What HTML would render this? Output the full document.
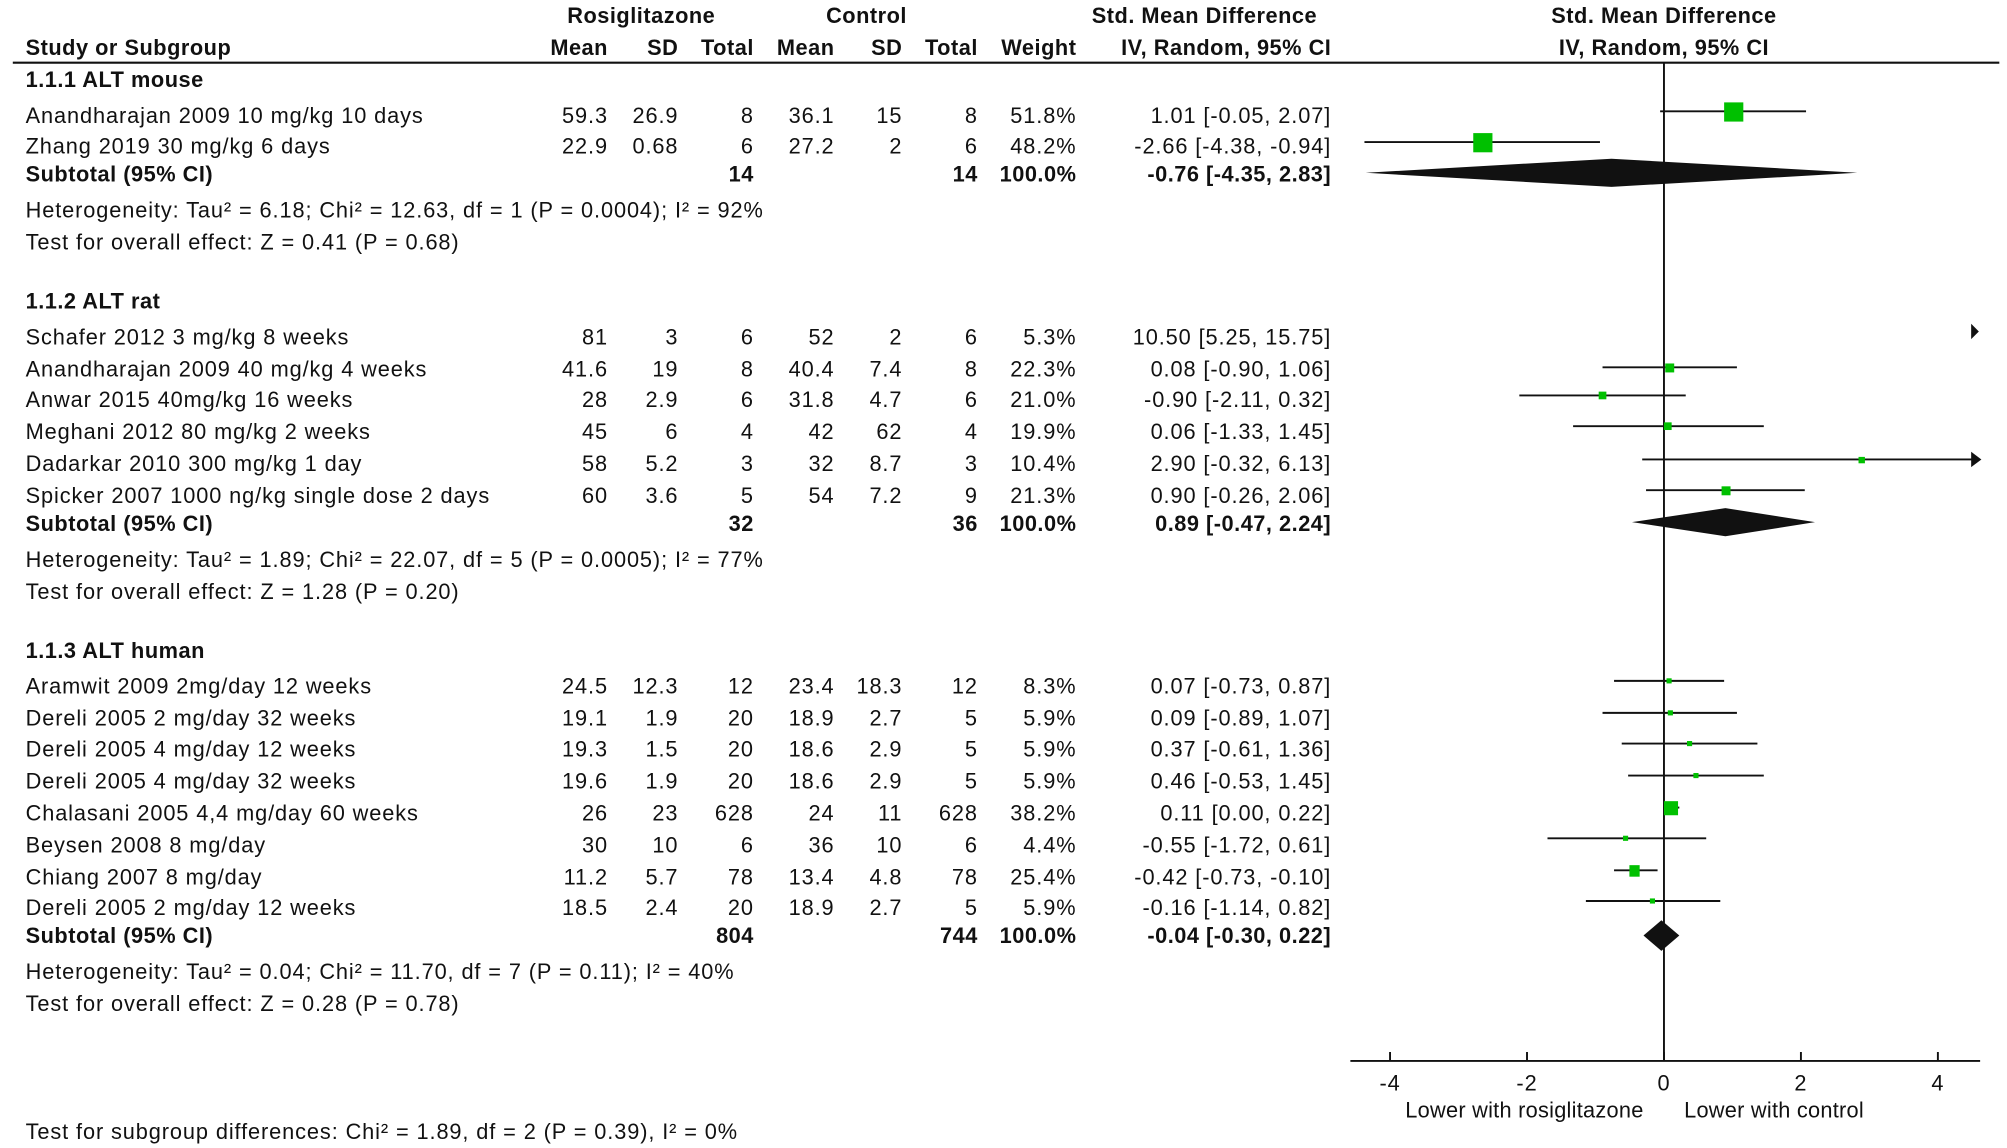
<!DOCTYPE html>
<html><head><meta charset="utf-8"><style>
html,body{margin:0;padding:0;background:#fff;overflow:hidden}
svg{display:block}
text{font-family:"Liberation Sans",Arial,sans-serif;font-size:17px;fill:#111;letter-spacing:0.7px}
.b{font-weight:bold;letter-spacing:0.4px}
.r{text-anchor:end}
.c{text-anchor:middle}
</style></head><body>
<svg width="2007" height="1148" viewBox="0 0 1568 897" preserveAspectRatio="none" xmlns="http://www.w3.org/2000/svg">
<g class="b">
<text class="b c" x="501" y="18">Rosiglitazone</text>
<text class="b c" x="677" y="18">Control</text>
<text class="b c" x="941" y="18">Std. Mean Difference</text>
<text class="b c" x="1300" y="18">Std. Mean Difference</text>
<text class="b" x="20" y="43">Study or Subgroup</text>
<text class="b r" x="475" y="43">Mean</text>
<text class="b r" x="530" y="43">SD</text>
<text class="b r" x="589" y="43">Total</text>
<text class="b r" x="652" y="43">Mean</text>
<text class="b r" x="705" y="43">SD</text>
<text class="b r" x="764" y="43">Total</text>
<text class="b r" x="841" y="43">Weight</text>
<text class="b c" x="958" y="43">IV, Random, 95% CI</text>
<text class="b c" x="1300" y="43">IV, Random, 95% CI</text>
</g>
<line x1="10" y1="49" x2="1562" y2="49" stroke="#111" stroke-width="1.6"/>

<text class="b" x="20" y="68">1.1.1 ALT mouse</text>
<text x="20" y="96">Anandharajan 2009 10 mg/kg 10 days</text>
<text class="r" x="475" y="96">59.3</text><text class="r" x="530" y="96">26.9</text><text class="r" x="589" y="96">8</text><text class="r" x="652" y="96">36.1</text><text class="r" x="705" y="96">15</text><text class="r" x="764" y="96">8</text><text class="r" x="841" y="96">51.8%</text><text class="r" x="1040" y="96">1.01 [-0.05, 2.07]</text>
<text x="20" y="120">Zhang 2019 30 mg/kg 6 days</text>
<text class="r" x="475" y="120">22.9</text><text class="r" x="530" y="120">0.68</text><text class="r" x="589" y="120">6</text><text class="r" x="652" y="120">27.2</text><text class="r" x="705" y="120">2</text><text class="r" x="764" y="120">6</text><text class="r" x="841" y="120">48.2%</text><text class="r" x="1040" y="120">-2.66 [-4.38, -0.94]</text>
<text class="b" x="20" y="142">Subtotal (95% CI)</text><text class="b r" x="589" y="142">14</text><text class="b r" x="764" y="142">14</text><text class="b r" x="841" y="142">100.0%</text><text class="b r" x="1040" y="142">-0.76 [-4.35, 2.83]</text>
<text x="20" y="170">Heterogeneity: Tau² = 6.18; Chi² = 12.63, df = 1 (P = 0.0004); I² = 92%</text>
<text x="20" y="195">Test for overall effect: Z = 0.41 (P = 0.68)</text>

<text class="b" x="20" y="241">1.1.2 ALT rat</text>
<text x="20" y="269">Schafer 2012 3 mg/kg 8 weeks</text>
<text class="r" x="475" y="269">81</text><text class="r" x="530" y="269">3</text><text class="r" x="589" y="269">6</text><text class="r" x="652" y="269">52</text><text class="r" x="705" y="269">2</text><text class="r" x="764" y="269">6</text><text class="r" x="841" y="269">5.3%</text><text class="r" x="1040" y="269">10.50 [5.25, 15.75]</text>
<text x="20" y="294">Anandharajan 2009 40 mg/kg 4 weeks</text>
<text class="r" x="475" y="294">41.6</text><text class="r" x="530" y="294">19</text><text class="r" x="589" y="294">8</text><text class="r" x="652" y="294">40.4</text><text class="r" x="705" y="294">7.4</text><text class="r" x="764" y="294">8</text><text class="r" x="841" y="294">22.3%</text><text class="r" x="1040" y="294">0.08 [-0.90, 1.06]</text>
<text x="20" y="318">Anwar 2015 40mg/kg 16 weeks</text>
<text class="r" x="475" y="318">28</text><text class="r" x="530" y="318">2.9</text><text class="r" x="589" y="318">6</text><text class="r" x="652" y="318">31.8</text><text class="r" x="705" y="318">4.7</text><text class="r" x="764" y="318">6</text><text class="r" x="841" y="318">21.0%</text><text class="r" x="1040" y="318">-0.90 [-2.11, 0.32]</text>
<text x="20" y="343">Meghani 2012 80 mg/kg 2 weeks</text>
<text class="r" x="475" y="343">45</text><text class="r" x="530" y="343">6</text><text class="r" x="589" y="343">4</text><text class="r" x="652" y="343">42</text><text class="r" x="705" y="343">62</text><text class="r" x="764" y="343">4</text><text class="r" x="841" y="343">19.9%</text><text class="r" x="1040" y="343">0.06 [-1.33, 1.45]</text>
<text x="20" y="368">Dadarkar 2010 300 mg/kg 1 day</text>
<text class="r" x="475" y="368">58</text><text class="r" x="530" y="368">5.2</text><text class="r" x="589" y="368">3</text><text class="r" x="652" y="368">32</text><text class="r" x="705" y="368">8.7</text><text class="r" x="764" y="368">3</text><text class="r" x="841" y="368">10.4%</text><text class="r" x="1040" y="368">2.90 [-0.32, 6.13]</text>
<text x="20" y="393">Spicker 2007 1000 ng/kg single dose 2 days</text>
<text class="r" x="475" y="393">60</text><text class="r" x="530" y="393">3.6</text><text class="r" x="589" y="393">5</text><text class="r" x="652" y="393">54</text><text class="r" x="705" y="393">7.2</text><text class="r" x="764" y="393">9</text><text class="r" x="841" y="393">21.3%</text><text class="r" x="1040" y="393">0.90 [-0.26, 2.06]</text>
<text class="b" x="20" y="415">Subtotal (95% CI)</text><text class="b r" x="589" y="415">32</text><text class="b r" x="764" y="415">36</text><text class="b r" x="841" y="415">100.0%</text><text class="b r" x="1040" y="415">0.89 [-0.47, 2.24]</text>
<text x="20" y="443">Heterogeneity: Tau² = 1.89; Chi² = 22.07, df = 5 (P = 0.0005); I² = 77%</text>
<text x="20" y="468">Test for overall effect: Z = 1.28 (P = 0.20)</text>

<text class="b" x="20" y="514">1.1.3 ALT human</text>
<text x="20" y="542">Aramwit 2009 2mg/day 12 weeks</text>
<text class="r" x="475" y="542">24.5</text><text class="r" x="530" y="542">12.3</text><text class="r" x="589" y="542">12</text><text class="r" x="652" y="542">23.4</text><text class="r" x="705" y="542">18.3</text><text class="r" x="764" y="542">12</text><text class="r" x="841" y="542">8.3%</text><text class="r" x="1040" y="542">0.07 [-0.73, 0.87]</text>
<text x="20" y="567">Dereli 2005 2 mg/day 32 weeks</text>
<text class="r" x="475" y="567">19.1</text><text class="r" x="530" y="567">1.9</text><text class="r" x="589" y="567">20</text><text class="r" x="652" y="567">18.9</text><text class="r" x="705" y="567">2.7</text><text class="r" x="764" y="567">5</text><text class="r" x="841" y="567">5.9%</text><text class="r" x="1040" y="567">0.09 [-0.89, 1.07]</text>
<text x="20" y="591">Dereli 2005 4 mg/day 12 weeks</text>
<text class="r" x="475" y="591">19.3</text><text class="r" x="530" y="591">1.5</text><text class="r" x="589" y="591">20</text><text class="r" x="652" y="591">18.6</text><text class="r" x="705" y="591">2.9</text><text class="r" x="764" y="591">5</text><text class="r" x="841" y="591">5.9%</text><text class="r" x="1040" y="591">0.37 [-0.61, 1.36]</text>
<text x="20" y="616">Dereli 2005 4 mg/day 32 weeks</text>
<text class="r" x="475" y="616">19.6</text><text class="r" x="530" y="616">1.9</text><text class="r" x="589" y="616">20</text><text class="r" x="652" y="616">18.6</text><text class="r" x="705" y="616">2.9</text><text class="r" x="764" y="616">5</text><text class="r" x="841" y="616">5.9%</text><text class="r" x="1040" y="616">0.46 [-0.53, 1.45]</text>
<text x="20" y="641">Chalasani 2005  4,4 mg/day 60 weeks</text>
<text class="r" x="475" y="641">26</text><text class="r" x="530" y="641">23</text><text class="r" x="589" y="641">628</text><text class="r" x="652" y="641">24</text><text class="r" x="705" y="641">11</text><text class="r" x="764" y="641">628</text><text class="r" x="841" y="641">38.2%</text><text class="r" x="1040" y="641">0.11 [0.00, 0.22]</text>
<text x="20" y="666">Beysen 2008 8 mg/day</text>
<text class="r" x="475" y="666">30</text><text class="r" x="530" y="666">10</text><text class="r" x="589" y="666">6</text><text class="r" x="652" y="666">36</text><text class="r" x="705" y="666">10</text><text class="r" x="764" y="666">6</text><text class="r" x="841" y="666">4.4%</text><text class="r" x="1040" y="666">-0.55 [-1.72, 0.61]</text>
<text x="20" y="691">Chiang 2007 8 mg/day</text>
<text class="r" x="475" y="691">11.2</text><text class="r" x="530" y="691">5.7</text><text class="r" x="589" y="691">78</text><text class="r" x="652" y="691">13.4</text><text class="r" x="705" y="691">4.8</text><text class="r" x="764" y="691">78</text><text class="r" x="841" y="691">25.4%</text><text class="r" x="1040" y="691">-0.42 [-0.73, -0.10]</text>
<text x="20" y="715">Dereli 2005 2 mg/day 12 weeks</text>
<text class="r" x="475" y="715">18.5</text><text class="r" x="530" y="715">2.4</text><text class="r" x="589" y="715">20</text><text class="r" x="652" y="715">18.9</text><text class="r" x="705" y="715">2.7</text><text class="r" x="764" y="715">5</text><text class="r" x="841" y="715">5.9%</text><text class="r" x="1040" y="715">-0.16 [-1.14, 0.82]</text>
<text class="b" x="20" y="737">Subtotal (95% CI)</text><text class="b r" x="589" y="737">804</text><text class="b r" x="764" y="737">744</text><text class="b r" x="841" y="737">100.0%</text><text class="b r" x="1040" y="737">-0.04 [-0.30, 0.22]</text>
<text x="20" y="765">Heterogeneity: Tau² = 0.04; Chi² = 11.70, df = 7 (P = 0.11); I² = 40%</text>
<text x="20" y="790">Test for overall effect: Z = 0.28 (P = 0.78)</text>

<text x="20" y="890">Test for subgroup differences: Chi² = 1.89, df = 2 (P = 0.39), I² = 0%</text>

<g stroke="#111" stroke-width="1.5" fill="none">
<line x1="1300" y1="49" x2="1300" y2="829"/>
<line x1="1055" y1="829" x2="1547" y2="829"/>
<line x1="1086" y1="822" x2="1086" y2="829"/>
<line x1="1193" y1="822" x2="1193" y2="829"/>
<line x1="1300" y1="822" x2="1300" y2="829"/>
<line x1="1407" y1="822" x2="1407" y2="829"/>
<line x1="1514" y1="822" x2="1514" y2="829"/>
<line x1="1297" y1="87" x2="1411" y2="87"/>
<line x1="1066" y1="111" x2="1250" y2="111"/>
<line x1="1252" y1="287" x2="1357" y2="287"/>
<line x1="1187" y1="309" x2="1317" y2="309"/>
<line x1="1229" y1="333" x2="1378" y2="333"/>
<line x1="1283" y1="359" x2="1542" y2="359"/>
<line x1="1286" y1="383" x2="1410" y2="383"/>
<line x1="1261" y1="532" x2="1347" y2="532"/>
<line x1="1252" y1="557" x2="1357" y2="557"/>
<line x1="1267" y1="581" x2="1373" y2="581"/>
<line x1="1272" y1="606" x2="1378" y2="606"/>
<line x1="1300" y1="631" x2="1312" y2="631"/>
<line x1="1209" y1="655" x2="1333" y2="655"/>
<line x1="1261" y1="680" x2="1295" y2="680"/>
<line x1="1239" y1="704" x2="1344" y2="704"/>
</g>
<g fill="#111">
<polygon points="1540,253 1546,259 1540,265"/>
<polygon points="1540,353 1548,359 1540,365"/>
<polygon points="1067,135 1259,124 1451,135 1259,146"/>
<polygon points="1275,408 1348,397 1418,408 1348,419"/>
<polygon points="1284,731 1298,719 1312,731 1298,743"/>
</g>
<g fill="#00c000">
<rect x="1347" y="80" width="15" height="15"/>
<rect x="1151" y="104" width="15" height="15"/>
<rect x="1301" y="284" width="7" height="7"/>
<rect x="1249" y="306" width="6" height="6"/>
<rect x="1300" y="330" width="6" height="6"/>
<rect x="1452" y="357" width="5" height="5"/>
<rect x="1345" y="380" width="7" height="7"/>
<rect x="1302" y="530" width="4" height="4"/>
<rect x="1303" y="555" width="4" height="4"/>
<rect x="1318" y="579" width="4" height="4"/>
<rect x="1323" y="604" width="4" height="4"/>
<rect x="1300" y="626" width="11" height="11"/>
<rect x="1268" y="653" width="4" height="4"/>
<rect x="1273" y="676" width="8" height="9"/>
<rect x="1289" y="702" width="4" height="4"/>
</g>
<text class="c" x="1086" y="852">-4</text>
<text class="c" x="1193" y="852">-2</text>
<text class="c" x="1300" y="852">0</text>
<text class="c" x="1407" y="852">2</text>
<text class="c" x="1514" y="852">4</text>
<text class="c" x="1191" y="873" style="letter-spacing:0.2px">Lower with rosiglitazone</text>
<text class="c" x="1386" y="873" style="letter-spacing:0.2px">Lower with control</text>
</svg>
</body></html>
